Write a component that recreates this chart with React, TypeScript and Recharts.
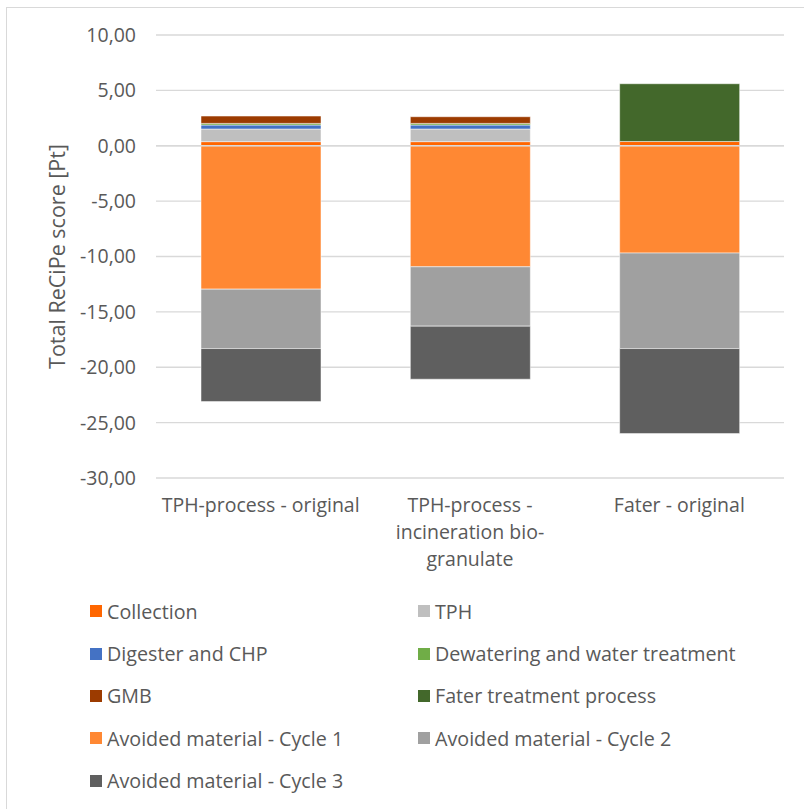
import { BarChart, Bar, XAxis, YAxis, CartesianGrid, ReferenceLine } from 'recharts';

const categories = [
  'TPH-process - original',
  'TPH-process - incineration bio-granulate',
  'Fater - original',
];
// how each category label wraps under the axis
const categoryLines = [
  ['TPH-process - original'],
  ['TPH-process -', 'incineration bio-', 'granulate'],
  ['Fater - original'],
];

const collection = [0.37, 0.37, 0.38];
const tph = [1.14, 1.14, 0];
const digester = [0.36, 0.36, 0];
const dewatering = [0.15, 0.15, 0];
const gmb = [0.66, 0.6, 0];
const faterTreatment = [0, 0, 5.22];
const avoidedCycle1 = [-12.95, -10.93, -9.69];
const avoidedCycle2 = [-5.36, -5.36, -8.62];
const avoidedCycle3 = [-4.79, -4.79, -7.68];

const yTicks = [-30, -25, -20, -15, -10, -5, 0, 5, 10];

const series = [
  { key: 'collection', name: 'Collection', color: '#FF6600', values: collection },
  { key: 'tph', name: 'TPH', color: '#BFBFBF', values: tph },
  { key: 'digester', name: 'Digester and CHP', color: '#4472C4', values: digester },
  { key: 'dewatering', name: 'Dewatering and water treatment', color: '#70AD47', values: dewatering },
  { key: 'gmb', name: 'GMB', color: '#9C3B00', values: gmb },
  { key: 'fater', name: 'Fater treatment process', color: '#43682B', values: faterTreatment },
  { key: 'cycle1', name: 'Avoided material - Cycle 1', color: '#FF8833', values: avoidedCycle1 },
  { key: 'cycle2', name: 'Avoided material - Cycle 2', color: '#A0A0A0', values: avoidedCycle2 },
  { key: 'cycle3', name: 'Avoided material - Cycle 3', color: '#5F5F5F', values: avoidedCycle3 },
];

const data = categories.map((name, i) => {
  const row: Record<string, any> = { name };
  series.forEach((s) => {
    row[s.key] = s.values[i];
  });
  return row;
});

const FONT = '"Open Sans", sans-serif';
const TEXT = '#595959';
const GRID = '#D9D9D9';

const fmt = (v: number) => v.toFixed(2).replace('.', ',');

function CategoryTick({ x, y, payload, index }: any) {
  const lines = categoryLines[index] ?? [payload.value];
  return (
    <text x={x} y={y} textAnchor="middle" fill={TEXT} fontSize={19.5} fontFamily={FONT}>
      {lines.map((l: string, i: number) => (
        <tspan key={i} x={x} dy={i === 0 ? 34 : 27}>
          {l}
        </tspan>
      ))}
    </text>
  );
}

function AxisTitle({ viewBox }: any) {
  const cy = viewBox.y + viewBox.height / 2;
  const cx = 56;
  return (
    <text
      x={cx}
      y={cy}
      transform={`rotate(-90 ${cx} ${cy})`}
      textAnchor="middle"
      dominantBaseline="central"
      fill={TEXT}
      fontSize={21.5}
      fontFamily={FONT}
    >
      Total ReCiPe score [Pt]
    </text>
  );
}

export default function App() {
  return (
    <div style={{ position: 'fixed', left: 0, top: 0, width: 804, height: 809, background: '#fff', fontFamily: FONT }}>
      <div
        style={{
          position: 'absolute',
          left: 6,
          top: 7,
          width: 798,
          height: 802,
          borderLeft: `1px solid ${GRID}`,
          borderTop: `1px solid ${GRID}`,
        }}
      />
      <div style={{ position: 'absolute', left: 0, top: 0 }}>
        <BarChart
          width={804}
          height={590}
          data={data}
          stackOffset="sign"
          barSize={120}
          margin={{ top: 35, right: 20, left: 96, bottom: 82 }}
        >
          <CartesianGrid vertical={false} stroke={GRID} strokeWidth={1.3} />
          <XAxis
            dataKey="name"
            axisLine={false}
            tickLine={false}
            tickSize={0}
            tickMargin={0}
            height={30}
            interval={0}
            tick={<CategoryTick />}
          />
          <YAxis
            width={60}
            domain={[-30, 10]}
            ticks={yTicks}
            axisLine={false}
            tickLine={false}
            tickSize={0}
            tickMargin={20}
            tickFormatter={fmt}
            tick={{ fill: TEXT, fontSize: 19.5, fontFamily: FONT }}
            label={{ content: <AxisTitle /> }}
          />
          {series.map((s) => (
            <Bar
              key={s.key}
              dataKey={s.key}
              name={s.name}
              stackId="a"
              fill={s.color}
              stroke="#ffffff"
              strokeWidth={0.5}
              isAnimationActive={false}
            />
          ))}
          <ReferenceLine y={0} stroke={GRID} strokeWidth={1.3} />
        </BarChart>
      </div>
      <div
        style={{
          position: 'absolute',
          left: 90,
          top: 590,
          display: 'grid',
          gridTemplateColumns: '328px 328px',
          gridAutoRows: '42.4px',
          fontSize: 19.7,
          color: TEXT,
        }}
      >
        {series.map((s) => (
          <div key={s.key} style={{ display: 'flex', alignItems: 'center', whiteSpace: 'nowrap' }}>
            <span style={{ width: 12, height: 12, background: s.color, marginRight: 5, flex: 'none' }} />
            <span>{s.name}</span>
          </div>
        ))}
      </div>
    </div>
  );
}
